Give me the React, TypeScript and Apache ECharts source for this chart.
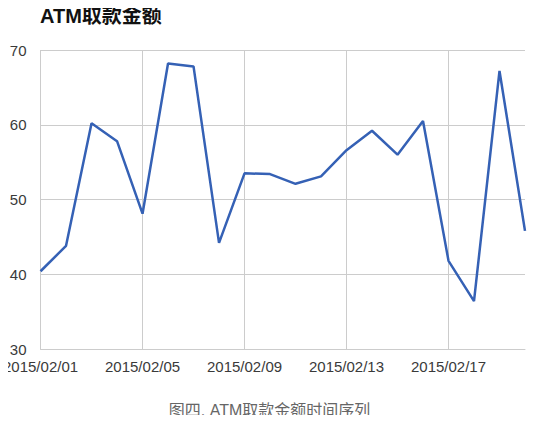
import React, { useEffect, useRef } from "react";
import * as echarts from "echarts";

const dates = [
  "2015/02/01", "2015/02/02", "2015/02/03", "2015/02/04", "2015/02/05",
  "2015/02/06", "2015/02/07", "2015/02/08", "2015/02/09", "2015/02/10",
  "2015/02/11", "2015/02/12", "2015/02/13", "2015/02/14", "2015/02/15",
  "2015/02/16", "2015/02/17", "2015/02/18", "2015/02/19", "2015/02/20",
];
const amounts = [
  40.4, 43.8, 60.2, 57.8, 48.1, 68.2, 67.8, 44.2, 53.5, 53.4,
  52.1, 53.1, 56.6, 59.2, 56.0, 60.5, 41.8, 36.4, 67.2, 45.8,
];
const titleText = "ATM取款金额";
const captionText = "图四. ATM取款金额时间序列";

const FONT = "Arial, 'Liberation Sans', 'Noto Sans CJK SC', sans-serif";

export default function App() {
  const ref = useRef<HTMLDivElement>(null);
  useEffect(() => {
    if (!ref.current) return;
    const chart = echarts.init(ref.current, null, { renderer: "svg" });
    chart.setOption({
      animation: false,
      backgroundColor: "#ffffff",
      title: {
        text: titleText,
        left: 35,
        top: 1,
        textStyle: { fontSize: 20, fontWeight: "bold", color: "#111", fontFamily: FONT },
      },
      grid: { left: 40, right: 14, top: 50, bottom: 74 },
      xAxis: {
        type: "category",
        data: dates,
        boundaryGap: false,
        axisLine: { show: true, lineStyle: { color: "#ccc", width: 1 } },
        axisTick: { show: false },
        axisLabel: {
          interval: 3,
          color: "#3a3a3a",
          fontSize: 15,
          fontFamily: FONT,
          margin: 10,
        },
        splitLine: { show: true, interval: 3, lineStyle: { color: "#ccc", width: 1 } },
      },
      yAxis: {
        type: "value",
        min: 30,
        max: 70,
        interval: 10,
        axisLine: { show: false },
        axisTick: { show: false },
        axisLabel: { color: "#3a3a3a", fontSize: 15, fontFamily: FONT, margin: 14 },
        splitLine: { show: true, lineStyle: { color: "#ccc", width: 1 } },
      },
      series: [
        {
          type: "line",
          data: amounts,
          symbol: "none",
          lineStyle: { color: "#3561b5", width: 2.5 },
        },
      ],
      graphic: [
        {
          type: "text",
          left: "center",
          top: 402,
          style: {
            text: captionText,
            fill: "#666",
            fontSize: 16,
            fontFamily: FONT,
          },
        },
      ],
    });
    return () => chart.dispose();
  }, []);
  return <div ref={ref} style={{ width: 539, height: 423, margin: -8 }} />;
}
